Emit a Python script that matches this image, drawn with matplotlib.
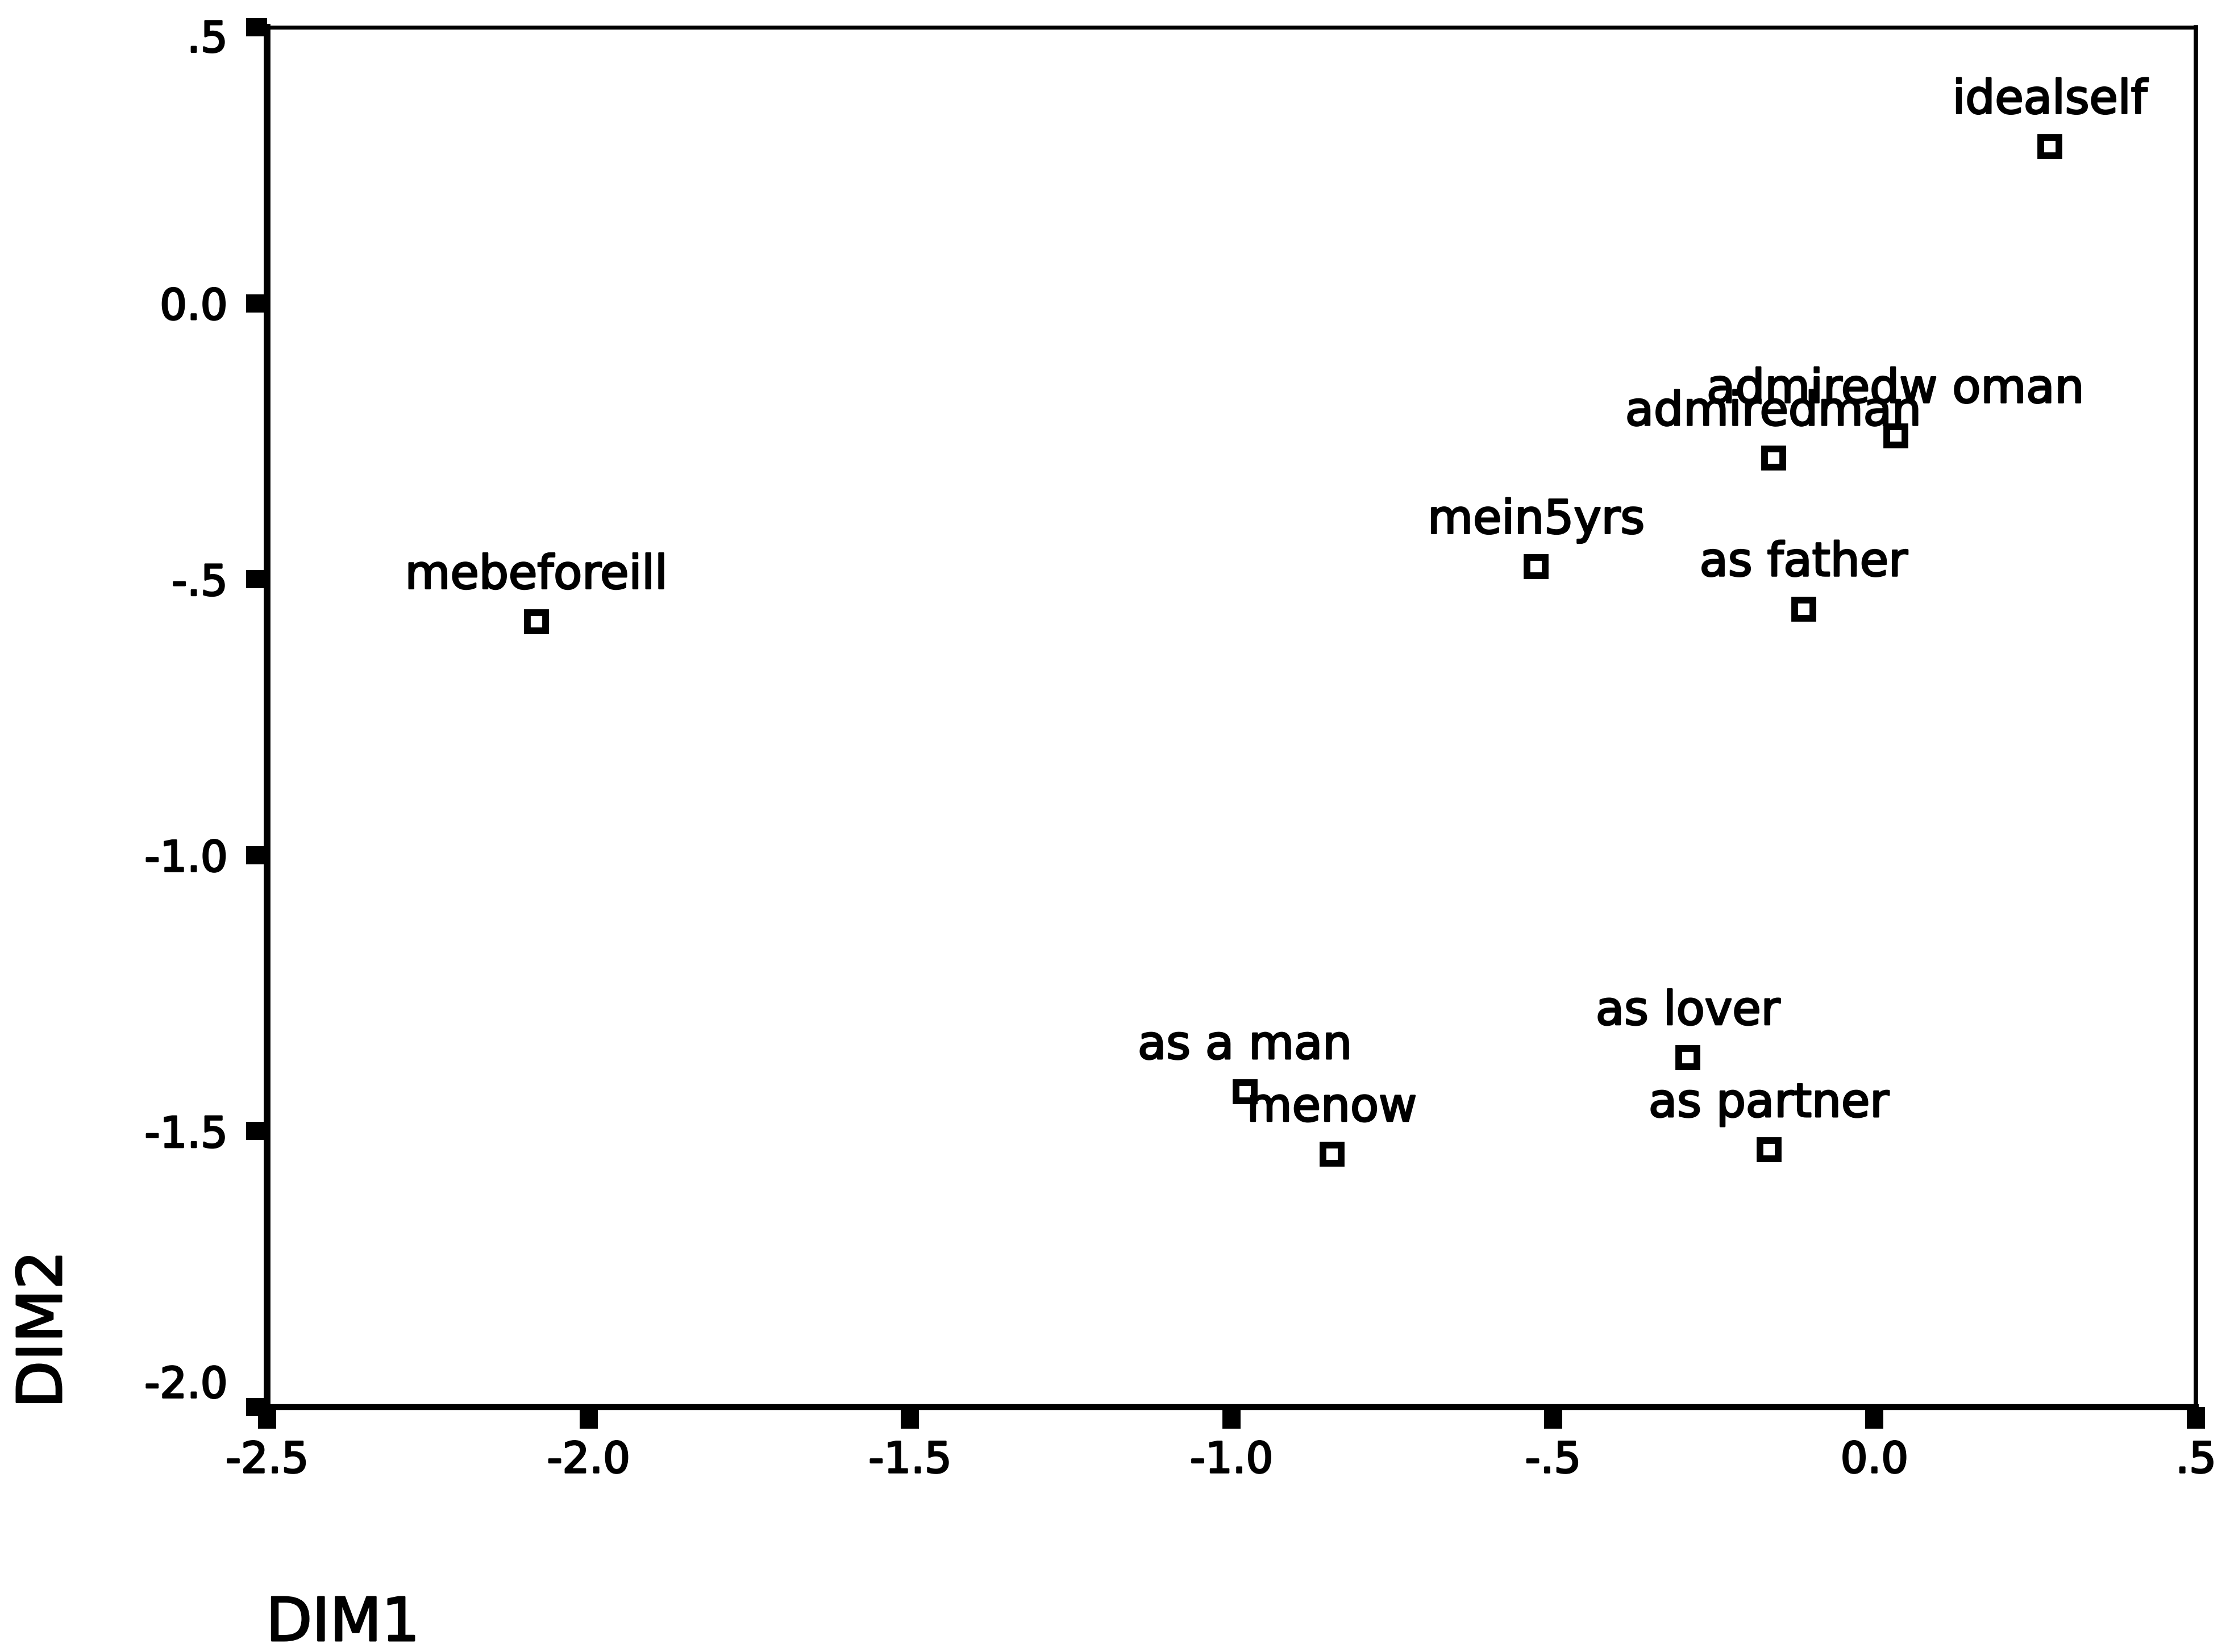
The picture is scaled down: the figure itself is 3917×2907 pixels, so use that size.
import matplotlib
matplotlib.use("Agg")
import matplotlib.pyplot as plt
import matplotlib.transforms as mtransforms
import matplotlib.patheffects as pe

# Stimulus configuration (MDS solution), two dimensions
labels = ["idealself", "admiredw oman", "admiredman", "mein5yrs", "as father",
          "mebeforeill", "as lover", "as a man", "menow", "as partner"]
dim1 = [0.273, 0.033, -0.157, -0.526, -0.110, -2.081, -0.290, -0.979, -0.844, -0.164]
dim2 = [0.284, -0.240, -0.281, -0.477, -0.554, -0.577, -1.367, -1.429, -1.542, -1.534]

xticks = [-2.5, -2.0, -1.5, -1.0, -0.5, 0.0, 0.5]
xticklabels = ["-2.5", "-2.0", "-1.5", "-1.0", "-.5", "0.0", ".5"]
yticks = [0.5, 0.0, -0.5, -1.0, -1.5, -2.0]
yticklabels = [".5", "0.0", "-.5", "-1.0", "-1.5", "-2.0"]

plt.rcParams["font.family"] = ["DejaVu Sans"]

# slightly heavier glyph strokes
heavy = [pe.withStroke(linewidth=2.2, foreground="black")]

fig = plt.figure(figsize=(39.17, 29.07), dpi=100)
ax = fig.add_axes([0.120, 0.1483, 0.8665, 0.8352])

ax.plot(dim1, dim2, linestyle="none", marker="s", markersize=23,
        markerfacecolor="white", markeredgecolor="black", markeredgewidth=8.5,
        zorder=3, clip_on=False)

for name, x, y in zip(labels, dim1, dim2):
    ax.annotate(name, (x, y), xytext=(0, 42), textcoords="offset points",
                ha="center", va="baseline", fontsize=59, color="black",
                path_effects=heavy)

ax.set_xlim(-2.5, 0.5)
ax.set_ylim(-2.0, 0.5)
ax.set_xticks(xticks)
ax.set_xticklabels(xticklabels)
ax.set_yticks(yticks)
ax.set_yticklabels(yticklabels)

ax.tick_params(axis="both", direction="out", length=27, width=23,
               color="black", labelsize=54)
ax.tick_params(axis="x", pad=15)
ax.tick_params(axis="y", pad=23)

ax.spines["bottom"].set_linewidth(7.5)
ax.spines["left"].set_linewidth(8.5)
ax.spines["top"].set_linewidth(5)
ax.spines["right"].set_linewidth(5.5)
for s in ax.spines.values():
    s.set_color("black")

for lab in ax.get_xticklabels() + ax.get_yticklabels():
    lab.set_path_effects(heavy)

# nudge the end labels of the vertical axis
for lab in ax.get_yticklabels():
    txt = lab.get_text()
    if txt == "-2.0":
        lab.set_transform(lab.get_transform() +
                          mtransforms.ScaledTranslation(0, 45 / 100, fig.dpi_scale_trans))
    elif txt == ".5":
        lab.set_transform(lab.get_transform() +
                          mtransforms.ScaledTranslation(0, -15 / 100, fig.dpi_scale_trans))

fig.text(468 / 3917, 1 - 2887 / 2907, "DIM1", ha="left", va="baseline", fontsize=76,
         path_effects=heavy)
fig.text(78 / 3917, 1 - 2478 / 2907, "DIM2", ha="center", va="bottom",
         rotation=90, fontsize=78, path_effects=heavy)

fig.savefig("out.png", dpi=100, facecolor="white")
